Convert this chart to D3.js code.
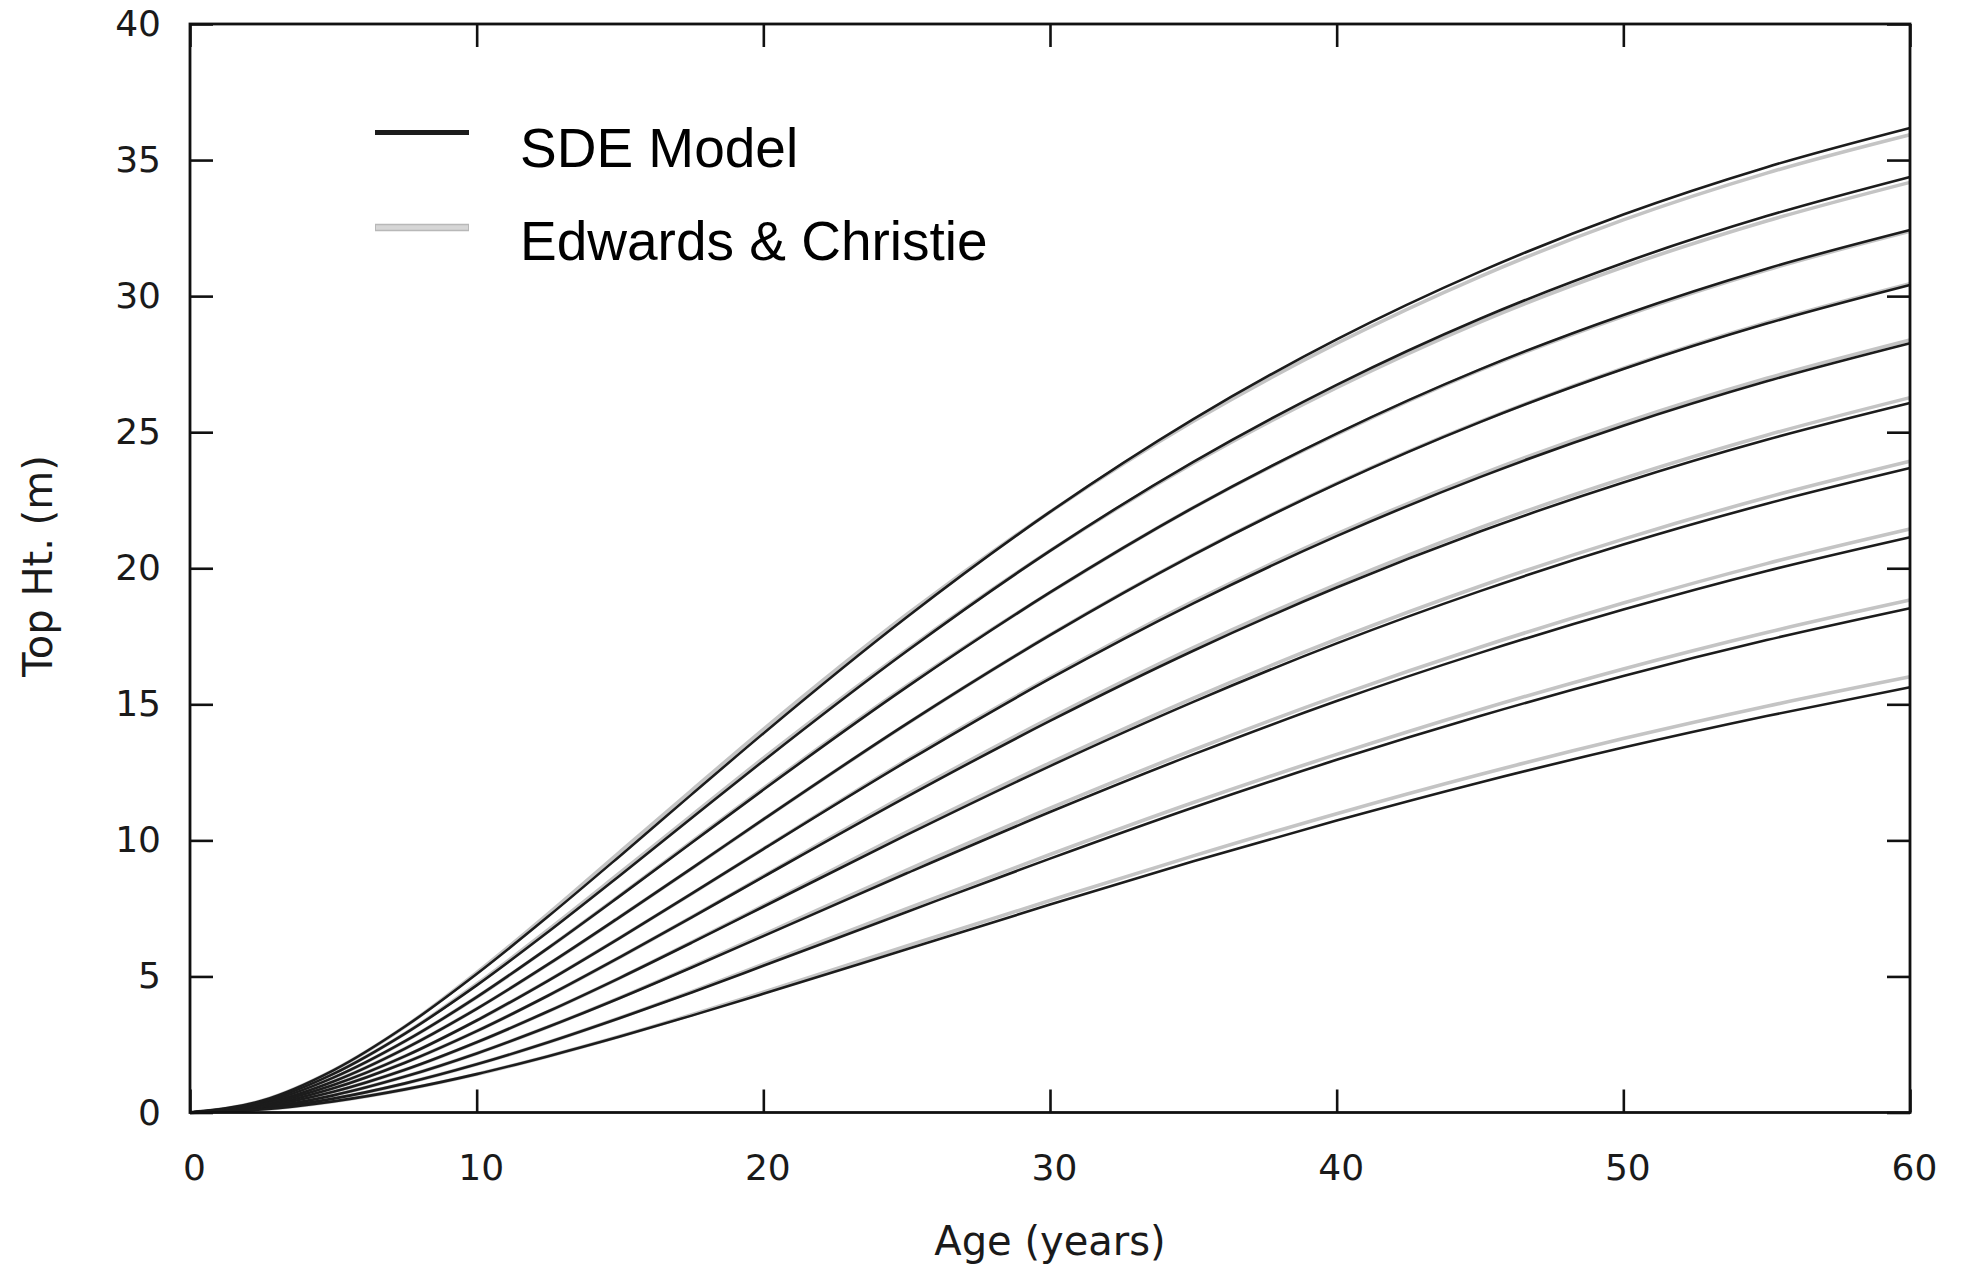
<!DOCTYPE html>
<html>
<head>
<meta charset="utf-8">
<script src="https://cdn.jsdelivr.net/npm/d3@7"></script>
<style>
  html, body { margin: 0; padding: 0; background: #fff; }
  svg { display: block; }
</style>
</head>
<body>
<div id="chart"></div>
<script>
var ages = [0, 2.5, 5, 7.5, 10, 12.5, 15, 17.5, 20, 25, 30, 35, 40, 45, 50, 55, 60];

// SDE model curves (top height, m), highest site first
var sde1  = [0, 0.43, 1.55, 3.16, 5.09, 7.21, 9.43, 11.69, 13.93, 18.20, 22.07, 25.48, 28.41, 30.90, 33.00, 34.74, 36.18];
var sde2  = [0, 0.39, 1.42, 2.90, 4.67, 6.64, 8.71, 10.82, 12.92, 16.95, 20.64, 23.91, 26.74, 29.17, 31.22, 32.94, 34.38];
var sde3  = [0, 0.35, 1.28, 2.62, 4.24, 6.05, 7.96, 9.91, 11.86, 15.63, 19.11, 22.23, 24.95, 27.31, 29.31, 31.01, 32.43];
var sde4  = [0, 0.31, 1.14, 2.35, 3.81, 5.45, 7.19, 8.97, 10.77, 14.28, 17.54, 20.49, 23.10, 25.37, 27.32, 28.99, 30.41];
var sde5  = [0, 0.28, 1.01, 2.07, 3.38, 4.85, 6.42, 8.04, 9.68, 12.90, 15.94, 18.71, 21.18, 23.35, 25.24, 26.87, 28.27];
var sde6  = [0, 0.24, 0.89, 1.83, 2.99, 4.30, 5.71, 7.17, 8.66, 11.60, 14.39, 16.97, 19.29, 21.35, 23.15, 24.72, 26.07];
var sde7  = [0, 0.21, 0.76, 1.57, 2.58, 3.72, 4.95, 6.24, 7.56, 10.20, 12.73, 15.09, 17.24, 19.16, 20.87, 22.37, 23.68];
var sde8  = [0, 0.17, 0.63, 1.32, 2.17, 3.15, 4.21, 5.33, 6.48, 8.79, 11.04, 13.16, 15.12, 16.89, 18.48, 19.90, 21.14];
var sde9  = [0, 0.14, 0.51, 1.07, 1.77, 2.58, 3.47, 4.41, 5.39, 7.37, 9.33, 11.21, 12.96, 14.57, 16.04, 17.36, 18.53];
var sde10 = [0, 0.11, 0.41, 0.85, 1.41, 2.07, 2.79, 3.56, 4.36, 6.00, 7.64, 9.23, 10.73, 12.13, 13.41, 14.57, 15.63];

// Edwards & Christie curves
var ec1  = [0, 0.43, 1.55, 3.16, 5.14, 7.31, 9.58, 11.84, 14.08, 18.30, 22.07, 25.40, 28.26, 30.72, 32.80, 34.52, 35.93];
var ec2  = [0, 0.39, 1.42, 2.90, 4.72, 6.72, 8.81, 10.92, 13.02, 17.00, 20.64, 23.86, 26.64, 29.05, 31.07, 32.76, 34.18];
var ec3  = [0, 0.35, 1.28, 2.62, 4.24, 6.05, 7.98, 9.95, 11.91, 15.68, 19.11, 22.23, 24.92, 27.28, 29.26, 30.96, 32.38];
var ec4  = [0, 0.31, 1.14, 2.35, 3.81, 5.45, 7.19, 8.97, 10.77, 14.28, 17.55, 20.50, 23.12, 25.39, 27.35, 29.03, 30.46];
var ec5  = [0, 0.28, 1.01, 2.07, 3.38, 4.85, 6.42, 8.04, 9.69, 12.95, 15.99, 18.78, 21.26, 23.44, 25.34, 26.98, 28.39];
var ec6  = [0, 0.24, 0.89, 1.83, 2.99, 4.30, 5.71, 7.18, 8.69, 11.68, 14.49, 17.08, 19.41, 21.49, 23.30, 24.89, 26.27];
var ec7  = [0, 0.21, 0.76, 1.57, 2.58, 3.72, 4.95, 6.26, 7.60, 10.30, 12.85, 15.23, 17.39, 19.34, 21.07, 22.60, 23.93];
var ec8  = [0, 0.17, 0.63, 1.32, 2.17, 3.15, 4.22, 5.36, 6.54, 8.91, 11.18, 13.32, 15.30, 17.10, 18.72, 20.17, 21.44];
var ec9  = [0, 0.14, 0.51, 1.07, 1.77, 2.58, 3.48, 4.44, 5.45, 7.49, 9.48, 11.39, 13.16, 14.80, 16.30, 17.64, 18.83];
var ec10 = [0, 0.11, 0.41, 0.85, 1.41, 2.07, 2.80, 3.59, 4.42, 6.12, 7.79, 9.43, 10.98, 12.42, 13.74, 14.93, 16.01];

var sdeCurves = [sde1, sde2, sde3, sde4, sde5, sde6, sde7, sde8, sde9, sde10];
var ecCurves = [ec1, ec2, ec3, ec4, ec5, ec6, ec7, ec8, ec9, ec10];

var xTicks = [0, 10, 20, 30, 40, 50, 60];
var yTicks = [0, 5, 10, 15, 20, 25, 30, 35, 40];
var legendLabels = ["SDE Model", "Edwards & Christie"];

var W = 1961, H = 1267;
var margin = {top: 24, right: 51, bottom: 154.5, left: 190};
var width = W - margin.left - margin.right,
    height = H - margin.top - margin.bottom;

var svg = d3.select("#chart").append("svg")
    .attr("width", W)
    .attr("height", H);

var g = svg.append("g")
    .attr("transform", "translate(" + margin.left + "," + margin.top + ")");

var x = d3.scaleLinear().domain([0, 60]).range([0, width]);
var y = d3.scaleLinear().domain([0, 40]).range([height, 0]);

var line = d3.line()
    .x(function(d) { return x(d[0]); })
    .y(function(d) { return y(d[1]); })
    .curve(d3.curveMonotoneX);

function pairs(vals) {
  return vals.map(function(v, i) { return [ages[i], v]; });
}

// grey curves underneath, black on top
g.append("g").selectAll("path")
    .data(ecCurves)
    .enter().append("path")
    .attr("d", function(d) { return line(pairs(d)); })
    .attr("fill", "none")
    .attr("stroke", "#c4c4c4")
    .attr("stroke-width", 3.6);

g.append("g").selectAll("path")
    .data(sdeCurves)
    .enter().append("path")
    .attr("d", function(d) { return line(pairs(d)); })
    .attr("fill", "none")
    .attr("stroke", "#1c1c1c")
    .attr("stroke-width", 2.6);

// axes: ticks point inwards, mirrored on top and right
var tickLen = 23;
var fontAxis = "'DejaVu Sans', sans-serif";

var xAxis = g.append("g")
    .attr("transform", "translate(0," + height + ")")
    .call(d3.axisBottom(x).tickValues(xTicks).tickSize(-tickLen).tickPadding(42).tickFormat(d3.format("d")));
xAxis.selectAll("text").attr("dx", 4);

var yAxis = g.append("g")
    .call(d3.axisLeft(y).tickValues(yTicks).tickSize(-tickLen).tickPadding(29).tickFormat(d3.format("d")));

g.append("g")
    .call(d3.axisTop(x).tickValues(xTicks).tickSize(-tickLen).tickFormat(""));
g.append("g")
    .attr("transform", "translate(" + width + ",0)")
    .call(d3.axisRight(y).tickValues(yTicks).tickSize(-tickLen).tickFormat(""));

g.selectAll(".domain").remove();
g.selectAll(".tick line").attr("stroke", "#111").attr("stroke-width", 2.6);
g.selectAll(".tick text")
    .attr("fill", "#1a1a1a")
    .style("font-family", fontAxis)
    .style("font-size", "36px");

g.append("rect")
    .attr("width", width)
    .attr("height", height)
    .attr("fill", "none")
    .attr("stroke", "#111")
    .attr("stroke-width", 2.8);

// axis titles
svg.append("text")
    .attr("x", 1050)
    .attr("y", 1255)
    .attr("text-anchor", "middle")
    .attr("fill", "#1a1a1a")
    .style("font-family", fontAxis)
    .style("font-size", "40px")
    .text("Age (years)");

svg.append("text")
    .attr("transform", "translate(52," + 566 + ") rotate(-90)")
    .attr("text-anchor", "middle")
    .attr("fill", "#1a1a1a")
    .style("font-family", fontAxis)
    .style("font-size", "40px")
    .text("Top Ht. (m)");

// legend
var legend = svg.append("g");
var legY = [132.5, 227.5];

legend.append("line")
    .attr("x1", 375).attr("x2", 469)
    .attr("y1", legY[0]).attr("y2", legY[0])
    .attr("stroke", "#1c1c1c")
    .attr("stroke-width", 5);

legend.append("line")
    .attr("x1", 375).attr("x2", 469)
    .attr("y1", legY[1]).attr("y2", legY[1])
    .attr("stroke", "#b8b8b8")
    .attr("stroke-width", 7.5);
legend.append("line")
    .attr("x1", 376).attr("x2", 468)
    .attr("y1", legY[1]).attr("y2", legY[1])
    .attr("stroke", "#d6d6d6")
    .attr("stroke-width", 4.5);

legend.selectAll("text.lab")
    .data(legendLabels)
    .enter().append("text")
    .attr("class", "lab")
    .attr("x", 520)
    .attr("y", function(d, i) { return i === 0 ? 167 : 260; })
    .attr("fill", "#000")
    .style("font-family", "'Liberation Sans', Arial, sans-serif")
    .style("font-size", "55px")
    .text(function(d) { return d; });
</script>
</body>
</html>
